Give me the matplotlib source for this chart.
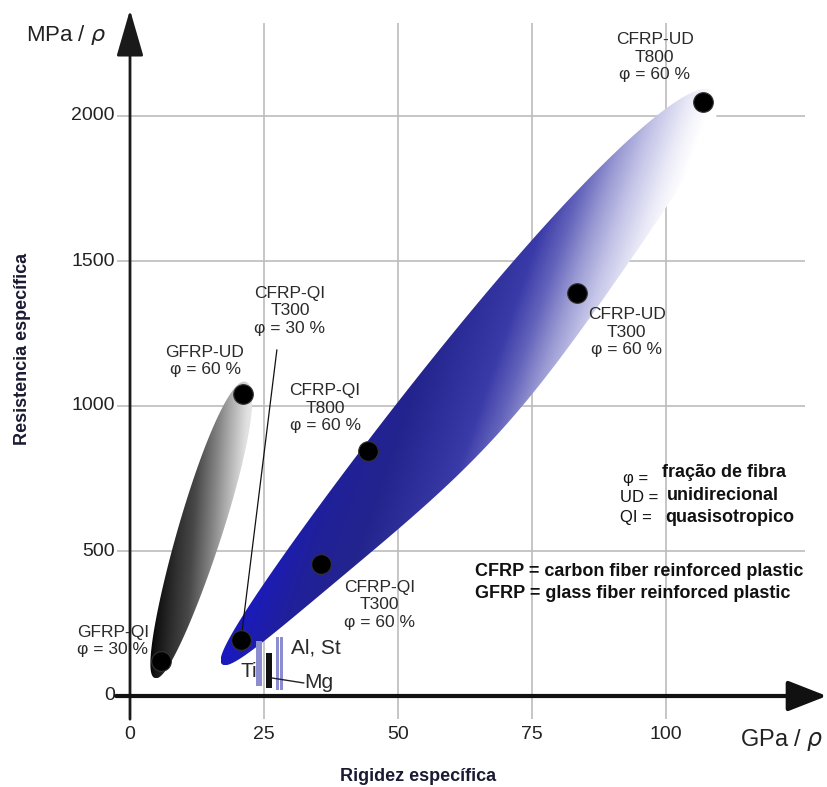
import numpy as np
import matplotlib
matplotlib.use("Agg")
import matplotlib.pyplot as plt
from matplotlib.colors import LinearSegmentedColormap
from matplotlib.patches import Polygon

plt.rcParams['font.family'] = ['Liberation Sans', 'DejaVu Sans']

# === data: specific stiffness (GPa/rho) vs specific strength (MPa/rho) ===
x_ticks = [0, 25, 50, 75, 100]
y_ticks = [0, 500, 1000, 1500, 2000]

point_labels = ["GFRP-QI\nφ = 30 %", "GFRP-UD\nφ = 60 %",
                "CFRP-QI\nT300\nφ = 30 %", "CFRP-QI\nT300\nφ = 60 %",
                "CFRP-QI\nT800\nφ = 60 %", "CFRP-UD\nT300\nφ = 60 %",
                "CFRP-UD\nT800\nφ = 60 %"]
point_x = [5.8, 21.1, 20.7, 35.6, 44.4, 83.4, 106.9]
point_y = [121, 1041, 193, 455, 845, 1390, 2048]

# envelopes (lower end / upper end of each family)
env_names = ["GFRP", "CFRP"]
env_lo = [(4.66, 62), (17.16, 110)]
env_hi = [(21.64, 1083), (108.96, 2083)]

# metals: stiffness position and strength range
metal_names = ["Ti", "Mg", "Al", "St"]
metal_x = [24.05, 25.95, 27.55, 28.25]
metal_lo = [34, 28, 21, 21]
metal_hi = [190, 148, 203, 203]

# === layout ===
label_pos = [(-3.2, 190), (14.0, 1155), (29.85, 1328), (46.6, 314),
             (36.4, 993), (92.7, 1255), (97.9, 2203)]
leader_from = (27.4, 1193)

fig = plt.figure(figsize=(8.28, 7.87), dpi=100)
ax = fig.add_axes([0, 0, 1, 1])
px_x, px_y = 5.36, 0.29
ax.set_xlim(-130 / px_x, (828 - 130) / px_x)
ax.set_ylim((696 - 787) / px_y, 696 / px_y)
ax.set_autoscale_on(False)
ax.axis('off')

grid_c = '#bcbcbc'
ax.vlines(x_ticks[1:], -80, 2320, color=grid_c, lw=1.2, zorder=0)
ax.hlines(y_ticks[1:], -2.4, 126, color=grid_c, lw=1.2, zorder=0)

blue_cmap = LinearSegmentedColormap.from_list('cfrp', [
    (0.0, '#1a1ac0'), (0.17, '#20209a'), (0.33, '#24248e'), (0.57, '#3a3aa8'),
    (0.66, '#6464bc'), (0.75, '#9c9cd4'), (0.83, '#c4c4e8'), (0.93, '#ececf8'),
    (1.0, '#ffffff')])
gray_cmap = LinearSegmentedColormap.from_list('gfrp', [
    (0.0, '#000000'), (0.06, '#111111'), (0.22, '#303030'), (0.36, '#484848'),
    (0.56, '#888888'), (0.65, '#a8a8a8'), (0.82, '#e0e0e0'), (1.0, '#f6f6f6')])


def envelope(lo, hi, half_w, taper, bulge, cmap, angle, vmin, vmax):
    # rounded region between the two ends, built in screen space,
    # with an optional smooth bulge on the lower-right flank
    T = ax.transData
    p0, p1 = T.transform([lo, hi])
    c = (p0 + p1) / 2
    v = p1 - p0
    a = np.hypot(*v) / 2
    u = v / (2 * a)
    n = np.array([-u[1], u[0]])
    s = np.linspace(0, 2 * np.pi, 600)
    r = np.cos(s)
    sn = np.abs(np.sin(s)) ** 0.9
    base = half_w * (1 + taper * r) * sn
    bump = bulge * np.exp(-((r + 0.1) / 0.6) ** 2) * sn
    off = np.where(np.sin(s) >= 0, base, -base - bump)
    pts = c + np.outer(a * r, u) + np.outer(off, n)
    poly = Polygon(T.inverted().transform(pts), closed=True,
                   facecolor='none', edgecolor='none')
    ax.add_patch(poly)
    d = np.array([np.cos(np.radians(angle)), np.sin(np.radians(angle))])
    q0, q1 = p0 @ d, p1 @ d
    (x0, y0), (x1, y1) = pts.min(axis=0), pts.max(axis=0)
    gx, gy = np.meshgrid(np.linspace(x0, x1, 500), np.linspace(y0, y1, 500))
    t = (gx * d[0] + gy * d[1] - q0) / (q1 - q0)
    (dx0, dy0), (dx1, dy1) = T.inverted().transform([(x0, y0), (x1, y1)])
    im = ax.imshow(t, cmap=cmap, vmin=vmin, vmax=vmax,
                   extent=[dx0, dx1, dy0, dy1], origin='lower', aspect='auto',
                   interpolation='bilinear', zorder=2)
    im.set_clip_path(poly)


envelope(env_lo[0], env_hi[0], 22, 0.1, 0, gray_cmap, -3.5, -0.1, 1.3)
envelope(env_lo[1], env_hi[1], 40, 0.3, 20, blue_cmap, -19, 0.0, 1.0)

# metals
txt_c = '#2a2a2a'
ax.text(23.7, 83, "Ti", fontsize=15, color=txt_c, ha='right', va='center', zorder=3)
bar_cols = ['#8c8cd0', '#111111', '#8c8cd0', '#8c8cd0']
bar_w = [1.2, 1.1, 0.55, 0.6]
ax.bar(metal_x, np.subtract(metal_hi, metal_lo), width=bar_w, bottom=metal_lo,
       color=bar_cols, zorder=4)
ax.plot([26.5, 32.4], [62, 45], color='#222222', lw=1.0, zorder=4)
ax.text(32.6, 45, "Mg", fontsize=15, color=txt_c, ha='left', va='center')
ax.text(34.7, 166, "Al, St", fontsize=15, color=txt_c, ha='center', va='center')

# leader line for CFRP-QI T300 30 %
ax.plot([leader_from[0], point_x[2]], [leader_from[1], point_y[2]],
        color='#111111', lw=0.9, zorder=3)

ax.scatter(point_x, point_y, s=200, c='black', edgecolors='#333333',
           linewidths=0.8, zorder=5)
for lab, (lx, ly) in zip(point_labels, label_pos):
    ax.text(lx, ly, lab, fontsize=12.5, color=txt_c, ha='center', va='center',
            linespacing=1.2, zorder=6)

# axes with arrows
ax.annotate('', xy=(0, 2366), xytext=(0, -80),
            arrowprops=dict(arrowstyle='-|>,head_length=1.45,head_width=0.42',
                            mutation_scale=20, lw=2, color='#1a1a1a',
                            shrinkA=0, shrinkB=0), zorder=7)
ax.annotate('', xy=(130.0, 0), xytext=(-2.6, 0),
            arrowprops=dict(arrowstyle='-|>,head_length=1.2,head_width=0.47',
                            mutation_scale=20, lw=3, color='#111111',
                            shrinkA=0, shrinkB=0), zorder=7)

for xt in x_ticks:
    ax.text(xt, -134, str(xt), fontsize=14, color='#222222', ha='center', va='center')
for yt in y_ticks:
    ax.text(-2.8, yt, str(yt), fontsize=14, color='#222222', ha='right', va='center')

ax.text(-11.9, 2279, "MPa / $\\rho$", fontsize=16, color='#222222', ha='center', va='center')
ax.text(121.6, -152, "GPa / $\\rho$", fontsize=17, color='#222222', ha='center', va='center')

ax.text(-20.1, 1197, "Resistencia específica", fontsize=13, fontweight='bold',
        color='#1a1a33', rotation=90, ha='center', va='center')
ax.text(53.7, -279, "Rigidez específica", fontsize=13, fontweight='bold',
        color='#1a1a33', ha='center', va='center')

# legend of abbreviations
leg_c = '#111111'
ax.text(92.0, 751, "φ =", fontsize=12, color=leg_c, ha='left', va='center')
ax.text(99.25, 769, "fração de fibra", fontsize=13, fontweight='bold', color=leg_c, va='center')
ax.text(91.4, 683, "UD =", fontsize=12, color=leg_c, ha='left', va='center')
ax.text(100.2, 690, "unidirecional", fontsize=13, fontweight='bold', color=leg_c, va='center')
ax.text(91.4, 614, "QI =", fontsize=12, color=leg_c, ha='left', va='center')
ax.text(99.8, 614, "quasisotropico", fontsize=13, fontweight='bold', color=leg_c, va='center')
ax.text(64.4, 428, "CFRP = carbon fiber reinforced plastic", fontsize=13,
        fontweight='bold', color=leg_c, va='center')
ax.text(64.4, 355, "GFRP = glass fiber reinforced plastic", fontsize=13,
        fontweight='bold', color=leg_c, va='center')

fig.savefig("out.png", dpi=100)
